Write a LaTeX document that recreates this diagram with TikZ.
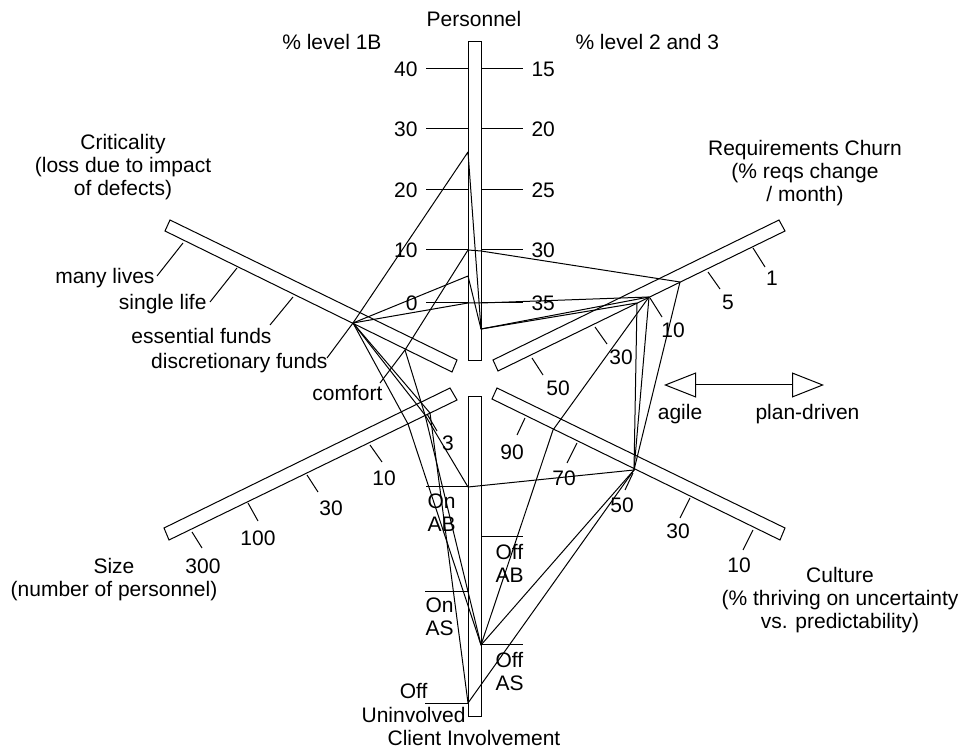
\documentclass[tikz,border=0pt]{standalone}
\usepackage{fontspec}
\setmainfont{Liberation Sans}
\usetikzlibrary{arrows.meta,calc}

\tikzset{
	lbl/.style={inner sep=0pt,font=\fontsize{10.5}{11.5}\selectfont},
	axisbar/.style={draw,fill=white},
	poly/.style={line join=round},
	openhead/.tip={Triangle[open,length=16pt,width=12.5pt]},
}

\begin{document}
\begin{tikzpicture}[x=0.5pt,y=-0.5pt,line width=0.5pt]
\useasboundingbox (0,0) rectangle (963,747);

%% the six bars
\draw[axisbar] (468,42) rectangle (481,361);   % personnel
\draw[axisbar] (468,397) rectangle (481,716);  % client involvement
\draw[axisbar] (170,220) -- (457,360) -- (452,372) -- (165,231) -- cycle; % criticality
\draw[axisbar] (779,220) -- (785,231) -- (498,371) -- (493,360) -- cycle; % churn
\draw[axisbar] (497,388) -- (785,528) -- (780,540) -- (492,399) -- cycle; % culture
\draw[axisbar] (164,528) -- (450,388) -- (457,400) -- (169,540) -- cycle; % size

%% personnel, two scales
\foreach \y/\l/\r in {69/40/15,129/30/20,190/20/25,250/10/30,303/0/35}{
	\draw (426,\y) -- (468,\y);
	\draw (481,\y) -- (523,\y);
	\node[lbl,anchor=east] (pl\l) at (418,\y) {\l};
	\node[lbl,anchor=west] (pr\r) at (531,\y) {\r};
}
\node[lbl,anchor=base] (pers) at (474,27) {Personnel};
\node[lbl,anchor=base east] (lvl1b) at (382,50) {\% level 1B};
\node[lbl,anchor=base west] (lvl23) at (575,50) {\% level 2 and 3};

%% requirements churn
\foreach \ax/\ay/\bx/\by/\lx/\ly/\t in {753/248/765/267/772/278/1,708/272/720/289/728/302/5,650/298/662/317/673/330/10,595/327/607/344/621/357/30,532/358/543/375/558/388/50}{
	\draw (\ax,\ay) -- (\bx,\by);
	\node[lbl] (rc\t) at (\lx,\ly) {\t};
}
\node[lbl,align=center,anchor=north] (churn) at (805,140) {Requirements Churn\\(\% reqs change\\/ month)};

%% culture
\foreach \ax/\ay/\bx/\by/\lx/\ly/\t in {525/418/517/435/512/452/90,577/443/567/463/564/478/70,633/473/625/490/622/505/50,690/498/680/518/678/531/30,753/530/743/550/739/565/10}{
	\draw (\ax,\ay) -- (\bx,\by);
	\node[lbl] (cu\t) at (\lx,\ly) {\t};
}
\node[lbl,align=center,anchor=north] (cult) at (840,567) {Culture\\(\% thriving on uncertainty\\vs. predictability)};

%% size
\foreach \ax/\ay/\bx/\by/\lx/\ly/\t in {427/414/437/431/448/443/3,370/445/382/462/384/478/10,307/475/318/492/331/508/30,248/503/258/521/258/538/100,192/532/202/548/203/566/300}{
	\draw (\ax,\ay) -- (\bx,\by);
	\node[lbl] (sz\t) at (\lx,\ly) {\t};
}
\node[lbl,align=center,anchor=north] (size) at (114,558) {Size\\(number of personnel)};

%% criticality
\foreach \ax/\ay/\bx/\by/\lx/\ly/\t [count=\i] in {183/243/157/276/155/284/many lives,237/268/210/302/207/310/single life,293/297/270/325/272/344/essential funds,353/323/327/358/328/369/discretionary funds,405/350/380/383/383/401/comfort}{
	\draw (\ax,\ay) -- (\bx,\by);
	\node[lbl,anchor=base east] (cr\i) at (\lx,\ly) {\t};
}
\node[lbl,align=center,anchor=north] (crit) at (123,134) {Criticality\\(loss due to impact\\of defects)};

%% client involvement
\draw (426,487) -- (468,487);
\draw (481,537) -- (523,537);
\draw (425,592) -- (468,592);
\draw (481,645) -- (523,645);
\draw (425,703) -- (468,703);
\node[lbl,align=left,anchor=north west] (onab) at (427,493) {On\\AB};
\node[lbl,align=left,anchor=north west] (offab) at (495,544) {Off\\AB};
\node[lbl,align=left,anchor=north west] (onas) at (425,597) {On\\AS};
\node[lbl,align=left,anchor=north west] (offas) at (495,652) {Off\\AS};
\node[lbl,anchor=base east] (offun) at (428,698) {Off};
\node[lbl,anchor=base east] (uninv) at (466,722) {Uninvolved};
\node[lbl,anchor=base] (client) at (474,745) {Client Involvement};

%% agile <-> plan-driven
\coordinate (agl) at (664,385);
\coordinate (pld) at (824,385);
\draw[openhead-openhead] (agl) -- (pld);
\node[lbl,anchor=base] (agile) at (680,420) {agile};
\node[lbl,anchor=base west] (plan) at (755,420) {plan-driven};

%% data points on the bars
\coordinate (a1) at (468,152); \coordinate (a2) at (468,250);
\coordinate (a3) at (468,276); \coordinate (a4) at (468,303);
\coordinate (b1) at (481,329); \coordinate (b2) at (481,251);
\coordinate (b3) at (481,303);
\coordinate (c1) at (680,282); \coordinate (c2) at (649,297);
\coordinate (c3) at (637,303);
\coordinate (d1) at (634,470); \coordinate (d2) at (553,430);
\coordinate (e1) at (468,487); \coordinate (e2) at (481,645);
\coordinate (e3) at (468,703);
\coordinate (f1) at (425,415); \coordinate (f2) at (408,424);
\coordinate (f3) at (430,413);
\coordinate (g1) at (353,323); \coordinate (g2) at (405,350);

%% the four projects
\draw[poly] (g2) -- (a2) -- (b2) -- (c1) -- (d1) -- (e1) -- (f1) -- cycle;
\draw[poly] (g1) -- (a4) -- (b3) -- (c2) -- (d2) -- (e2) -- (f2) -- cycle;
\draw[poly] (g1) -- (a1) -- (b1) -- (c2) -- (d1) -- (e2) -- (f1) -- cycle;
\draw[poly] (g1) -- (a3) -- (b1) -- (c3) -- (d1) -- (e3) -- (f3) -- cycle;
\end{tikzpicture}
\end{document}
